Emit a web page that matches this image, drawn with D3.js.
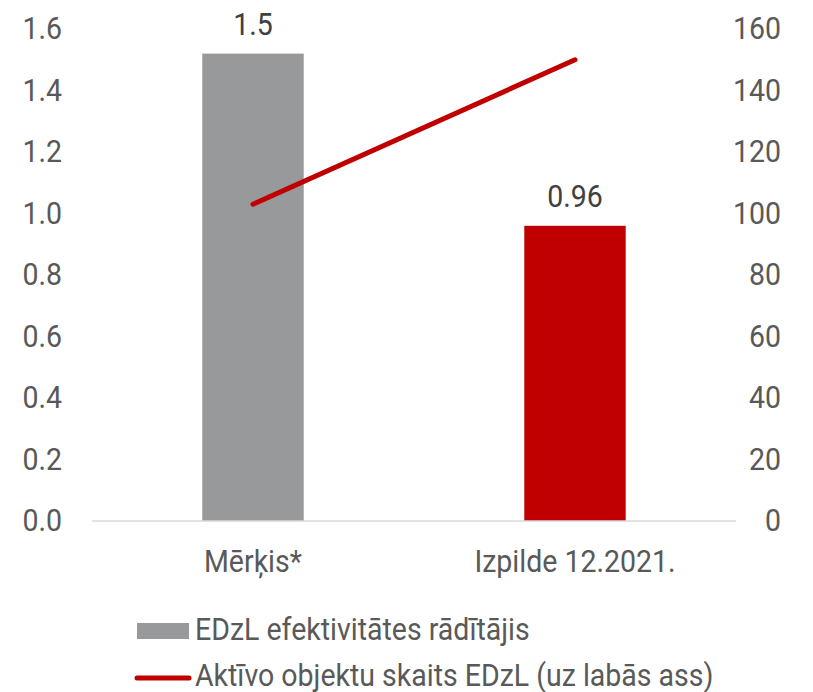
<!DOCTYPE html>
<html>
<head>
<meta charset="utf-8">
<script src="https://cdn.jsdelivr.net/npm/d3@7"></script>
<style>
  body { margin: 0; background: #fff; }
  text { font-family: Roboto, "Noto Sans", sans-serif; }
</style>
</head>
<body>
<div id="chart"></div>
<script>
// data
var categories = ["Mērķis*", "Izpilde 12.2021."];
var barValues = [1.52, 0.96];
var barLabels = ["1.5", "0.96"];
var lineValues = [103, 150];
var leftTicks = [0, 0.2, 0.4, 0.6, 0.8, 1.0, 1.2, 1.4, 1.6];
var rightTicks = [0, 20, 40, 60, 80, 100, 120, 140, 160];
var seriesNames = ["EDzL efektivitātes rādītājis", "Aktīvo objektu skaits EDzL (uz labās ass)"];

var width = 813, height = 692;
var margin = {top: 29, right: 77, bottom: 171, left: 92};
var fontSize = 31;
var squeeze = 0.92; // condensed look

var svg = d3.select("#chart").append("svg")
    .attr("width", width)
    .attr("height", height);

var x = d3.scaleBand()
    .domain(categories)
    .range([margin.left, width - margin.right])
    .padding(0);

var yL = d3.scaleLinear().domain([0, 1.6]).range([height - margin.bottom, margin.top]);
var yR = d3.scaleLinear().domain([0, 160]).range([height - margin.bottom, margin.top]);

var barW = x.step() * 0.315;
var barColors = ["#98999b", "#c00000"];

function condense(sel) {
    sel.each(function() {
        var t = d3.select(this);
        var xv = +(t.attr("x") || 0);
        t.attr("x", xv / squeeze).attr("transform", "scale(" + squeeze + ",1)");
    });
}

function label(g, px, py, str, anchor, color) {
    return g.append("text")
        .attr("x", px / squeeze)
        .attr("y", py)
        .attr("transform", "scale(" + squeeze + ",1)")
        .attr("text-anchor", anchor)
        .attr("font-size", fontSize)
        .attr("fill", color)
        .text(str);
}

// bars
svg.selectAll(".bar")
    .data(barValues)
    .enter().append("rect")
    .attr("class", "bar")
    .attr("x", (d, i) => x(categories[i]) + x.bandwidth() / 2 - barW / 2)
    .attr("y", d => yL(d))
    .attr("width", barW)
    .attr("height", d => yL(0) - yL(d))
    .attr("fill", (d, i) => barColors[i]);

// baseline
svg.append("line")
    .attr("x1", margin.left).attr("x2", width - margin.right)
    .attr("y1", yL(0)).attr("y2", yL(0))
    .attr("stroke", "#d9d9d9").attr("stroke-width", 1.5);

// left axis
var gl = svg.append("g")
    .attr("transform", "translate(" + margin.left + ",0)")
    .call(d3.axisLeft(yL).tickValues(leftTicks).tickFormat(d3.format(".1f")).tickSize(0));
gl.select(".domain").remove();
gl.selectAll("text")
    .attr("x", -30)
    .attr("font-size", fontSize)
    .attr("fill", "#595959")
    .attr("font-family", "Roboto")
    .call(condense);

// right axis
var gr = svg.append("g")
    .attr("transform", "translate(" + (width - margin.right) + ",0)")
    .call(d3.axisRight(yR).tickValues(rightTicks).tickSize(0));
gr.select(".domain").remove();
gr.selectAll("text")
    .attr("x", 45)
    .attr("text-anchor", "end")
    .attr("font-size", fontSize)
    .attr("fill", "#595959")
    .attr("font-family", "Roboto")
    .call(condense);

// category labels
categories.forEach(function(c) {
    label(svg, x(c) + x.bandwidth() / 2, 572, c, "middle", "#595959");
});

// value labels
barValues.forEach(function(v, i) {
    label(svg, x(categories[i]) + x.bandwidth() / 2, yL(v) - 19, barLabels[i], "middle", "#404040");
});

// line on right axis
var line = d3.line()
    .x((d, i) => x(categories[i]) + x.bandwidth() / 2)
    .y(d => yR(d));

svg.append("path")
    .datum(lineValues)
    .attr("d", line)
    .attr("fill", "none")
    .attr("stroke", "#c00000")
    .attr("stroke-width", 5)
    .attr("stroke-linecap", "round");

// legend
var lg = svg.append("g");
lg.append("rect")
    .attr("x", 137).attr("y", 623)
    .attr("width", 52).attr("height", 16)
    .attr("fill", barColors[0]);
label(lg, 195, 640, seriesNames[0], "start", "#595959");

lg.append("line")
    .attr("x1", 137).attr("x2", 189)
    .attr("y1", 678).attr("y2", 678)
    .attr("stroke", "#c00000")
    .attr("stroke-width", 5)
    .attr("stroke-linecap", "round");
label(lg, 195, 686, seriesNames[1], "start", "#595959");
</script>
</body>
</html>
